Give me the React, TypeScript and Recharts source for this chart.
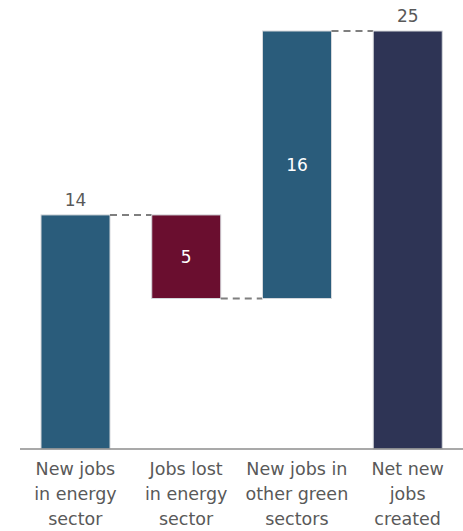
import React from "react";
import { BarChart, Bar, XAxis, YAxis, LabelList, Cell } from "recharts";

const categories = [
  "New jobs\nin energy\nsector",
  "Jobs lost\nin energy\nsector",
  "New jobs in\nother green\nsectors",
  "Net new\njobs\ncreated",
];
const baseValues = [0, 9, 9, 0];
const barValues = [14, 5, 16, 25];
const decreasing = [false, true, false, false];
const labelInside = [false, true, true, false];
const barColors = ["#2a5c7b", "#6a0e2f", "#2a5c7b", "#2e3455"];

const CHART_W = 463;
const CHART_H = 531;
const LEFT = 20;
const RIGHT = 0;
const BAND = (CHART_W - LEFT - RIGHT) / categories.length;
const FONT = "'DejaVu Sans', Verdana, sans-serif";

const data = categories.map((name, i) => ({
  name,
  base: baseValues[i],
  value: barValues[i],
  down: decreasing[i],
  inside: labelInside[i],
}));

const BarShape = (props: any) => {
  const { x, y, width, height, fill, index } = props;
  const p = props.payload || data[index];
  const levelY = p.down ? y + height : y;
  const gap = BAND - width;
  return (
    <g>
      <rect x={x} y={y} width={width} height={height} fill={fill} stroke="#d5d8dc" strokeWidth={1} />
      {index < categories.length - 1 && (
        <line
          x1={x + width}
          x2={x + width + gap}
          y1={levelY}
          y2={levelY}
          stroke="#7f7f7f"
          strokeWidth={2}
          strokeDasharray="7 5"
        />
      )}
    </g>
  );
};

const ValueLabel = (props: any) => {
  const { x, y, width, height, value, index } = props;
  const inside = labelInside[index];
  const cx = x + width / 2;
  if (inside) {
    return (
      <text x={cx} y={y + height / 2} dy={6} textAnchor="middle" fill="#ffffff" fontSize={17} fontFamily={FONT}>
        {value}
      </text>
    );
  }
  return (
    <text x={cx} y={y - 9} textAnchor="middle" fill="#595959" fontSize={17} fontFamily={FONT}>
      {value}
    </text>
  );
};

const CategoryTick = (props: any) => {
  const { x, y, payload } = props;
  const lines = String(payload.value).split("\n");
  return (
    <text x={x} y={y} textAnchor="middle" fill="#595959" fontSize={17.5} fontFamily={FONT}>
      {lines.map((l, i) => (
        <tspan key={i} x={x} dy={i === 0 ? 26 : 25}>
          {l}
        </tspan>
      ))}
    </text>
  );
};

export default function App() {
  return (
    <div style={{ width: CHART_W, height: CHART_H, fontFamily: FONT }}>
      <style>{"body{margin:0}"}</style>
      <BarChart
        width={CHART_W}
        height={CHART_H}
        data={data}
        margin={{ top: 31, right: RIGHT, bottom: 0, left: LEFT }}
        barSize={69}
      >
        <XAxis
          dataKey="name"
          height={82}
          interval={0}
          tickLine={false}
          tickSize={0}
          tickMargin={0}
          axisLine={{ stroke: "#8c8c8c", strokeWidth: 1.5 }}
          tick={<CategoryTick />}
        />
        <YAxis hide domain={[0, 25]} />
        <Bar dataKey="base" stackId="w" fill="transparent" isAnimationActive={false} />
        <Bar dataKey="value" stackId="w" isAnimationActive={false} shape={<BarShape />}>
          {data.map((d, i) => (
            <Cell key={i} fill={barColors[i]} />
          ))}
          <LabelList dataKey="value" content={<ValueLabel />} />
        </Bar>
      </BarChart>
    </div>
  );
}
